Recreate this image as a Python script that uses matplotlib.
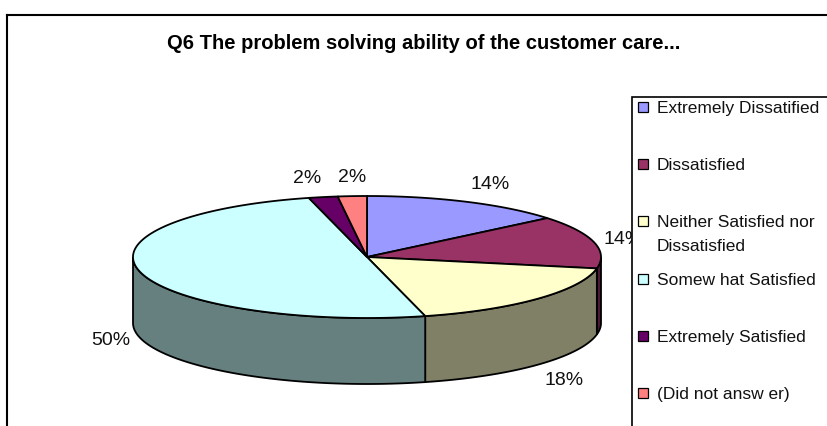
import numpy as np
import matplotlib.pyplot as plt
from matplotlib.patches import Polygon, Rectangle
from matplotlib.colors import to_rgb

plt.rcParams['font.family'] = ['Liberation Sans', 'DejaVu Sans']

title = "Q6 The problem solving ability of the customer care..."
labels = ["Extremely Dissatified", "Dissatisfied", "Neither Satisfied nor\nDissatisfied",
          "Somew hat Satisfied", "Extremely Satisfied", "(Did not answ er)"]
values = [14, 14, 18, 50, 2, 2]
pct_labels = ["14%", "14%", "18%", "50%", "2%", "2%"]
colors = ["#9999FF", "#993366", "#FFFFCC", "#CCFFFF", "#660066", "#FF8080"]

W, H = 827, 426
fig = plt.figure(figsize=(W / 100, H / 100), dpi=100)
ax = fig.add_axes([0, 0, 1, 1])
ax.set_xlim(0, W)
ax.set_ylim(H, 0)
ax.axis('off')

# pie geometry in pixels (tilted 3d look)
cx, cy, a, b, depth = 367, 257, 234, 61, 66


def rim(t0, t1, dy=0):
    t = np.radians(np.linspace(t0, t1, max(int(abs(t1 - t0)) * 3, 2)))
    return np.column_stack([cx + a * np.sin(t), cy - b * np.cos(t) + dy])


angles = np.concatenate([[0], np.cumsum(values)]) / sum(values) * 360

# side walls (front half only)
for i, c in enumerate(colors):
    s0, s1 = max(angles[i], 90), min(angles[i + 1], 270)
    if s1 <= s0:
        continue
    dark = tuple(np.array(to_rgb(c)) * 0.5)
    pts = np.vstack([rim(s0, s1), rim(s1, s0, depth)])
    ax.add_patch(Polygon(pts, closed=True, fc=dark, ec='black', lw=1.3, zorder=2))

# top face
for i, c in enumerate(colors):
    pts = np.vstack([[cx, cy], rim(angles[i], angles[i + 1])])
    ax.add_patch(Polygon(pts, closed=True, fc=c, ec='black', lw=1.3, zorder=3))

# percentage labels
for i, txt in enumerate(pct_labels):
    tm = np.radians((angles[i] + angles[i + 1]) / 2)
    s, co = np.sin(tm), np.cos(tm)
    x = cx + (a + 10) * s
    y = cy - (b + 10) * co + (depth if co < 0 else 0)
    ha = 'left' if s > 0.1 else ('right' if s < -0.1 else 'center')
    va = 'bottom' if co > 0.3 else ('top' if co < -0.3 else 'center')
    ax.text(x, y, txt, ha=ha, va=va, fontsize=14, color='#111111', zorder=4)

# chart frame
ax.plot([7, W], [15, 15], color='black', lw=1.5, zorder=6)
ax.plot([7, 7], [15, H], color='black', lw=1.5, zorder=6)
ax.text(424, 49, title, ha='center', va='baseline', fontsize=14.5, fontweight='bold', zorder=6)

# legend box
ax.add_patch(Rectangle((632, 97), 220, 360, fc='white', ec='black', lw=1.2, zorder=5))
for i, (lab, c) in enumerate(zip(labels, colors)):
    y = 107 + i * 57.2
    ax.add_patch(Rectangle((638, y - 5), 10, 10, fc=c, ec='black', lw=0.9, zorder=6))
    for j, line in enumerate(lab.split('\n')):
        ax.text(657, y + 6 + j * 24, line, ha='left', va='baseline', fontsize=12.5,
                color='#111111', zorder=6)

fig.savefig('out.png', dpi=100)
